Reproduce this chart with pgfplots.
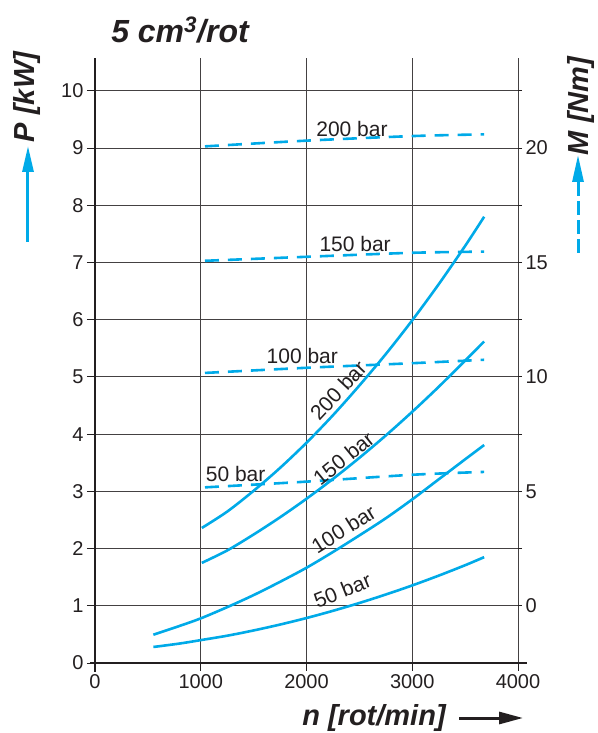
\documentclass[border=0pt]{standalone}
\usepackage{pgfplots}
\pgfplotsset{compat=1.18}
\usepackage{fontspec}
\setmainfont{Liberation Sans}
\usetikzlibrary{arrows.meta}
\definecolor{cy}{RGB}{0,170,232}
\definecolor{ax}{RGB}{35,31,32}
\begin{document}
\begin{tikzpicture}
\useasboundingbox (-95pt,-70pt) rectangle (502pt,663pt);
\begin{axis}[
  at={(0pt,0pt)}, anchor=south west,
  width=423pt, height=605.3pt, scale only axis,
  xmin=0, xmax=4000, ymin=0, ymax=10.58,
  xtick={0,1000,2000,3000,4000}, ytick={0,1,...,10},
  grid=major, grid style={line width=0.9pt, ax!85},
  axis x line*=bottom, axis y line*=left,
  x axis line style={line width=2.8pt, ax, shorten <=-5pt, shorten >=-9pt},
  y axis line style={line width=2.8pt, ax, shorten <=-9pt},
  tick align=outside,
  major tick length=8pt,
  tick style={line width=0.9pt, ax},
  every tick label/.append style={font=\fontsize{20}{22}\selectfont, text=ax},
  /pgf/number format/.cd, assume math mode=true, 1000 sep={},
]
\pgfplotsset{every axis plot/.append style={line width=2.6pt, cy}}
% solid: power P [kW]
\addplot[smooth] coordinates {(552,0.28) (800,0.34) (1000,0.40) (1250,0.477) (1500,0.569) (1750,0.672) (2000,0.786) (2250,0.912) (2500,1.049) (2750,1.197) (3000,1.356) (3250,1.527) (3500,1.709) (3680,1.85)};
\addplot[smooth] coordinates {(552,0.495) (800,0.648) (1000,0.78) (1250,0.976) (1500,1.187) (1750,1.419) (2000,1.665) (2250,1.94) (2500,2.23) (2750,2.53) (3000,2.86) (3250,3.21) (3500,3.56) (3680,3.81)};
\addplot[smooth] coordinates {(1010,1.75) (1250,1.967) (1500,2.246) (1750,2.547) (2000,2.871) (2250,3.217) (2500,3.586) (2750,3.977) (3000,4.391) (3250,4.827) (3500,5.286) (3680,5.62)};
\addplot[smooth] coordinates {(1010,2.36) (1250,2.646) (1500,3.01) (1750,3.41) (2000,3.85) (2250,4.33) (2500,4.85) (2750,5.40) (3000,5.99) (3250,6.62) (3500,7.29) (3680,7.80)};
% dashed: torque M [Nm], drawn on the P scale (M = 2.5 (P - 1))
\addplot[smooth, dash pattern=on 14pt off 9pt] coordinates {(1040,9.03) (2000,9.13) (3000,9.21) (3680,9.24)};
\addplot[smooth, dash pattern=on 14pt off 9pt] coordinates {(1040,7.03) (2000,7.10) (3000,7.17) (3680,7.19)};
\addplot[smooth, dash pattern=on 14pt off 9pt] coordinates {(1040,5.07) (2000,5.16) (3000,5.24) (3680,5.30)};
\addplot[smooth, dash pattern=on 14pt off 9pt] coordinates {(1040,3.07) (2000,3.17) (3000,3.29) (3680,3.34)};
% labels
\begin{scope}[every node/.style={font=\fontsize{21}{22}\selectfont, text=ax, inner sep=0pt}]
\node at (axis cs:2430,9.33) {200 bar};
\node at (axis cs:2460,7.33) {150 bar};
\node at (axis cs:1960,5.37) {100 bar};
\node at (axis cs:1330,3.30) {50 bar};
\node[rotate=47] at (axis cs:2300,4.76) {200 bar};
\node[rotate=39] at (axis cs:2350,3.58) {150 bar};
\node[rotate=32] at (axis cs:2350,2.34) {100 bar};
\node[rotate=22] at (axis cs:2340,1.27) {50 bar};
\end{scope}
\end{axis}
\begin{axis}[
  at={(0pt,0pt)}, anchor=south west,
  width=423pt, height=605.3pt, scale only axis,
  xmin=0, xmax=4000, ymin=-2.5, ymax=23.95,
  axis x line=none, axis y line*=right,
  y axis line style={draw=none},
  ytick={0,5,10,15,20},
  minor ytick={2.5,7.5,12.5,17.5,22.5},
  tick align=outside, major tick length=4pt, minor tick length=4pt,
  tick style={line width=0.9pt, ax},
  every tick label/.append style={font=\fontsize{20}{22}\selectfont, text=ax},
  /pgf/number format/.cd, assume math mode=true,
]
\end{axis}
% axis titles
\node[font=\fontsize{32}{34}\selectfont\bfseries\itshape, text=ax] at (85pt,633pt) {5 cm\textsuperscript{3}/rot};
\node[font=\fontsize{29}{30}\selectfont\bfseries\itshape, text=ax, rotate=90] at (-68pt,566pt) {P [kW]};
\node[font=\fontsize{29}{30}\selectfont\bfseries\itshape, text=ax, rotate=90] at (486pt,557pt) {M [Nm]};
\node[font=\fontsize{29}{30}\selectfont\bfseries\itshape, text=ax] at (279pt,-55pt) {n [rot/min]};
\draw[cy, line width=3pt, -{Triangle[length=26pt,width=11pt]}] (-67pt,421pt) -- (-67pt,517pt);
\draw[cy, line width=3pt, dash pattern=on 14pt off 5pt, -{Triangle[length=27pt,width=11pt]}] (483pt,410pt) -- (483pt,508pt);
\draw[ax, line width=3pt, -{Triangle[length=24pt,width=12pt]}] (364pt,-55pt) -- (428pt,-55pt);
\end{tikzpicture}
\end{document}
